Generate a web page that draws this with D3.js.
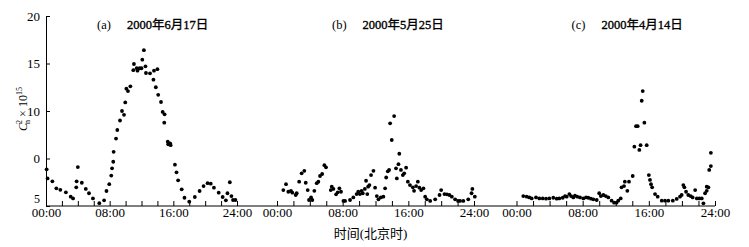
<!DOCTYPE html>
<html>
<head>
<meta charset="utf-8">
<script src="https://cdn.jsdelivr.net/npm/d3@7"></script>
<style>
  body { margin: 0; background: #fff; }
  svg { display: block; }
  text { font-family: "Liberation Serif", "Times New Roman", "Noto Sans CJK SC", serif; fill: #000; }
  .axis path, .axis line { stroke: #000; stroke-width: 1; }
</style>
</head>
<body>
<svg id="chart" width="749" height="247"></svg>
<script>
// [hour, Cn2 value]
const dataJun17 = [
  [0.08, 3.86], [0.2, 2.9], [0.8, 2.6], [1.3, 1.86], [1.8, 1.7], [2.5, 1.44], [3.1, 0.98],
  [3.4, 0.8], [3.8, 1.97], [3.85, 2.6], [4.0, 4.1], [4.5, 2.45], [5.0, 1.8], [5.4, 1.34],
  [5.9, 0.8], [6.7, 0.3], [7.3, 0.6], [7.6, 1.58], [7.95, 2.3], [8.2, 3.2], [8.3, 3.97],
  [8.45, 4.66], [8.5, 5.7], [8.8, 7.1], [8.96, 8.0], [9.3, 9.0], [9.55, 10.0], [9.8, 9.6],
  [9.96, 10.9], [10.1, 12.35], [10.3, 12.1], [10.6, 12.6], [10.97, 14.3], [11.05, 14.95],
  [11.4, 14.5], [11.5, 14.25], [11.77, 14.5], [12.0, 14.5], [12.1, 15.4], [12.3, 16.4],
  [12.5, 14.7], [12.56, 14.0], [13.07, 13.97], [13.5, 13.3], [13.57, 14.25], [13.8, 12.5],
  [14.0, 14.4], [14.1, 11.7], [14.45, 10.95], [14.66, 9.9], [14.9, 9.65], [14.86, 8.77],
  [15.3, 6.77], [15.36, 6.5], [15.6, 6.6], [15.66, 6.4], [16.2, 4.35], [16.4, 3.55],
  [16.6, 2.7], [17.05, 1.76], [17.4, 0.87], [18.0, 0.46], [18.7, 0.95], [19.3, 1.58],
  [19.8, 2.1], [20.3, 2.4], [20.7, 2.35], [21.1, 1.93], [21.7, 1.4], [22.2, 0.95],
  [22.6, 0.6], [22.8, 1.34], [23.1, 2.5], [23.3, 1.05], [23.5, 0.63], [23.8, 0.63]
];

const dataMay25 = [
  [0.77, 1.68], [1.1, 2.3], [1.38, 1.5], [1.7, 1.58], [1.87, 1.4], [2.28, 1.16], [2.4, 1.34],
  [2.7, 2.56], [3.0, 3.44], [3.33, 3.7], [3.5, 2.45], [3.74, 1.68], [3.9, 0.63], [4.15, 0.9],
  [4.3, 0.63], [4.55, 1.6], [4.84, 2.4], [5.04, 2.56], [5.24, 3.16], [5.5, 3.37], [5.77, 4.3],
  [5.97, 4.07], [6.55, 1.68], [6.67, 2.03], [6.87, 1.8], [7.2, 1.23], [7.4, 1.44], [7.6, 1.86],
  [7.8, 1.5], [8.1, 0.53], [8.3, 0.53], [8.9, 0.63], [9.3, 0.9], [9.7, 1.26], [9.9, 1.5],
  [10.1, 1.26], [10.3, 1.6], [10.45, 1.34], [10.7, 1.8], [10.85, 2.66], [11.0, 1.26],
  [11.1, 2.03], [11.26, 2.2], [11.46, 3.26], [11.75, 3.7], [11.95, 1.93], [12.16, 1.05],
  [12.36, 0.7], [12.65, 0.9], [12.96, 0.98], [13.17, 1.86], [13.3, 3.0], [13.5, 3.65],
  [13.66, 3.8], [13.78, 8.7], [13.98, 6.95], [14.27, 9.47], [14.5, 3.97], [14.6, 2.9],
  [14.8, 4.4], [14.9, 5.5], [15.1, 3.8], [15.33, 3.26], [15.5, 3.44], [15.73, 4.03],
  [15.94, 2.56], [16.2, 2.2], [16.55, 1.97], [16.7, 1.6], [16.95, 2.1], [17.16, 2.56],
  [17.35, 1.93], [17.56, 1.68], [17.84, 1.86], [18.05, 0.98], [18.25, 0.7], [18.66, 0.53],
  [19.27, 0.7], [19.8, 1.16], [20.0, 1.68], [20.4, 1.26], [20.7, 1.23], [21.0, 1.16],
  [21.3, 0.98], [21.7, 0.7], [22.06, 0.53], [22.3, 0.53], [22.7, 0.53], [23.3, 0.7],
  [23.7, 1.34], [23.8, 1.8], [24.1, 0.98]
];

const dataApr14 = [
  [0.82, 1.05], [1.23, 0.98], [1.55, 0.9], [1.84, 0.8], [2.36, 0.9], [2.76, 0.8], [3.17, 0.8],
  [3.57, 0.77], [3.97, 0.8], [4.45, 0.87], [4.86, 0.77], [5.18, 0.8], [5.59, 0.87],
  [5.87, 1.05], [6.07, 0.98], [6.39, 1.26], [6.6, 1.05], [6.87, 0.9], [7.07, 1.09],
  [7.35, 0.98], [7.68, 0.9], [8.08, 0.8], [8.4, 0.9], [8.68, 0.87], [9.0, 0.77], [9.29, 0.7],
  [9.7, 0.63], [10.0, 1.34], [10.2, 1.05], [10.5, 1.16], [10.8, 1.05], [11.1, 0.9],
  [11.5, 0.56], [11.8, 0.35], [12.1, 0.35], [12.3, 0.56], [12.6, 0.8], [12.7, 1.97],
  [13.0, 2.1], [13.1, 2.56], [13.4, 1.6], [13.6, 2.56], [14.05, 3.16], [14.25, 6.24],
  [14.45, 8.4], [14.65, 8.4], [14.85, 5.9], [15.0, 6.4], [15.14, 11.08], [15.26, 12.1],
  [15.46, 8.77], [15.74, 6.4], [16.0, 3.26], [16.14, 2.74], [16.26, 2.3], [16.4, 1.97],
  [16.75, 1.26], [17.07, 0.98], [17.56, 0.56], [17.96, 0.56], [18.36, 0.56], [18.9, 0.56],
  [19.37, 0.74], [19.77, 0.98], [19.97, 1.16], [20.17, 2.2], [20.3, 1.97], [20.5, 1.5],
  [20.77, 1.16], [21.06, 1.05], [21.3, 0.9], [21.6, 1.68], [21.8, 0.8], [22.1, 0.8],
  [22.4, 0.8], [22.6, 0.28], [22.8, 1.34], [23.0, 2.03], [23.2, 1.97], [23.0, 1.6],
  [23.3, 3.8], [23.5, 4.2], [23.5, 5.6]
];

const panelLetters = ["(a)", "(b)", "(c)"];
const panelDates = ["2000年6月17日", "2000年5月25日", "2000年4月14日"];
const hourTicks = [0, 2, 4, 6, 8, 10, 12, 14, 16, 18, 20, 22, 24];
const hourLabels = { 0: "00:00", 8: "08:00", 16: "16:00", 24: "24:00" };
const yTicks = [0, 5, 10, 15, 20];
const yTickLabels = ["5", "0", "10", "15", "20"];   // as printed in the original
const xTitle = "时间(北京时)";

const svg = d3.select("#chart"),
    plotTop = 16,
    plotBottom = 206;

const y = d3.scaleLinear().domain([0, 20]).range([plotBottom, plotTop]);

const panels = [
    { data: dataJun17, range: [46, 237] },
    { data: dataMay25, range: [277, 474] },
    { data: dataApr14, range: [516.5, 715] }
];
panels.forEach(function (p) {
    p.x = d3.scaleLinear().domain([0, 24]).range(p.range);
});

// continuous baseline under all three panels
svg.append("line")
    .attr("x1", panels[0].x(0))
    .attr("x2", panels[2].x(24))
    .attr("y1", y(0))
    .attr("y2", y(0))
    .attr("stroke", "#000");

panels.forEach(function (p, i) {
    const xAxis = d3.axisBottom(p.x)
        .tickValues(hourTicks)
        .tickSize(-5)
        .tickPadding(2)
        .tickFormat(function (d) { return hourLabels[d] || ""; });

    const g = svg.append("g")
        .attr("class", "axis")
        .attr("transform", "translate(0," + y(0) + ")")
        .call(xAxis);
    g.select(".domain").remove();
    g.selectAll("text").attr("font-size", 13);

    svg.append("g")
        .selectAll("circle")
        .data(p.data)
        .enter()
        .append("circle")
        .attr("cx", function (d) { return p.x(d[0]); })
        .attr("cy", function (d) { return y(d[1]); })
        .attr("r", 1.9)
        .attr("fill", "#000");

    const title = svg.append("text")
        .attr("x", p.x(0) + (i === 0 ? 51 : 55))
        .attr("y", 29)
        .attr("font-size", 12.5);
    title.append("tspan").text(panelLetters[i]);
    title.append("tspan").attr("dx", 16)
        .attr("stroke", "#000").attr("stroke-width", 0.35)
        .text(panelDates[i]);
});

const yAxis = d3.axisLeft(y)
    .tickValues(yTicks)
    .tickSize(-4)
    .tickSizeOuter(0)
    .tickPadding(6)
    .tickFormat(function (d, i) { return yTickLabels[i]; });

const yg = svg.append("g")
    .attr("class", "axis")
    .attr("transform", "translate(" + panels[0].x(0) + ",0)")
    .call(yAxis);
yg.selectAll("text").attr("font-size", 13);
// the bottom label sits a little higher so it clears 00:00
yg.selectAll(".tick text").filter(function (d) { return d === 0; })
    .attr("y", -7)
    .attr("font-size", 12);

// y title: Cn^2 x 10^15
const yTitle = svg.append("text")
    .attr("transform", "translate(27,109) rotate(-90)")
    .attr("text-anchor", "middle")
    .attr("font-size", 12);
yTitle.append("tspan").attr("font-style", "italic").text("C");
yTitle.append("tspan").attr("font-size", 8).attr("dy", 3).attr("dx", -1).text("n");
yTitle.append("tspan").attr("font-size", 8).attr("dy", -8).attr("dx", -4).text("2");
yTitle.append("tspan").attr("dy", 5).text(" × 10");
yTitle.append("tspan").attr("font-size", 8).attr("dy", -5).text("15");

svg.append("text")
    .attr("x", (panels[1].x(0) + panels[1].x(24)) / 2 - 5)
    .attr("y", 238)
    .attr("text-anchor", "middle")
    .attr("font-size", 13)
    .text(xTitle);
</script>
</body>
</html>
